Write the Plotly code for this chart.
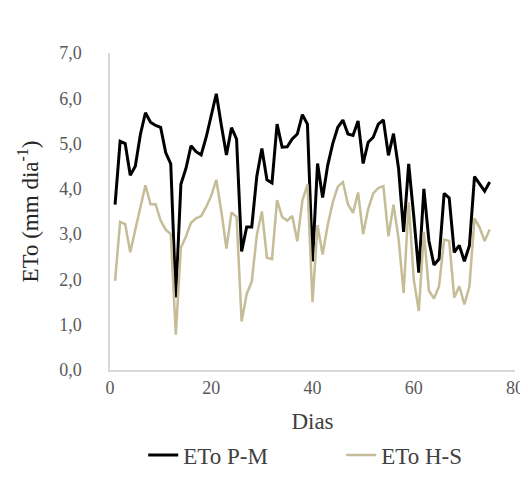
import plotly.graph_objects as go

dias = list(range(1, 76))

eto_pm = [3.65, 5.05, 5.0, 4.3, 4.5, 5.2, 5.68, 5.47, 5.4, 5.36,
          4.8, 4.55, 1.6, 4.1, 4.45, 4.95, 4.82, 4.75, 5.14, 5.62,
          6.1, 5.4, 4.75, 5.35, 5.1, 2.62, 3.16, 3.16, 4.28, 4.89,
          4.2, 4.13, 5.43, 4.92, 4.93, 5.1, 5.21, 5.64, 5.43, 2.4,
          4.56, 3.81, 4.52, 5.0, 5.36, 5.52, 5.21, 5.18, 5.5, 4.56,
          5.03, 5.14, 5.43, 5.52, 4.74, 5.22, 4.45, 3.05, 4.55, 3.4,
          2.15, 4.0, 2.85, 2.32, 2.45, 3.9, 3.8, 2.6, 2.75, 2.4,
          2.75, 4.27, 4.1, 3.95, 4.15]

eto_hs = [1.97, 3.27, 3.22, 2.6, 3.1, 3.6, 4.08, 3.66, 3.66, 3.3,
          3.1, 3.0, 0.78, 2.7, 2.95, 3.25, 3.35, 3.4, 3.6, 3.85,
          4.2, 3.5, 2.68, 3.48, 3.38, 1.07, 1.68, 1.95, 2.98, 3.5,
          2.48, 2.45, 3.75, 3.38, 3.3, 3.4, 2.84, 3.74, 4.1, 1.5,
          3.2, 2.55, 3.2, 3.7, 4.05, 4.15, 3.66, 3.47, 3.92, 3.0,
          3.56, 3.9, 4.02, 4.06, 2.95, 3.65, 2.9, 1.7, 3.7, 2.0,
          1.3, 3.05, 1.75, 1.58, 1.85, 2.88, 2.85, 1.6, 1.85, 1.45,
          1.85, 3.35, 3.15, 2.85, 3.1]

x_ticks = [0, 20, 40, 60, 80]
y_ticks = [0, 1, 2, 3, 4, 5, 6, 7]
y_tick_labels = ["0,0", "1,0", "2,0", "3,0", "4,0", "5,0", "6,0", "7,0"]

SERIF = "Liberation Serif"

fig = go.Figure()
fig.add_trace(go.Scatter(x=dias, y=eto_pm, mode="lines", name="ETo P-M",
                         legendwidth=153,
                         line=dict(color="#000000", width=3)))
fig.add_trace(go.Scatter(x=dias, y=eto_hs, mode="lines", name="ETo H-S",
                         line=dict(color="#C4BD97", width=2.5)))

fig.update_layout(
    width=528, height=480,
    margin=dict(l=102, r=14, t=45, b=110),
    paper_bgcolor="white", plot_bgcolor="white",
    font=dict(family=SERIF, color="#404040"),
    showlegend=True,
    legend=dict(orientation="h", x=0.082, xanchor="left", y=-0.268, yanchor="middle",
                font=dict(family=SERIF, size=23, color="#404040"),
                bgcolor="rgba(0,0,0,0)"),
    xaxis=dict(range=[0, 80], tickvals=x_ticks, showgrid=False, zeroline=False,
               showline=True, linecolor="#d9d9d9", linewidth=1.5,
               ticks="", tickfont=dict(family=SERIF, size=18, color="#595959"),
               ticklabelstandoff=1,
               title=dict(text="Dias", font=dict(family=SERIF, size=23, color="#404040"),
                          standoff=16)),
    yaxis=dict(range=[0, 7], tickvals=y_ticks, ticktext=y_tick_labels,
               showgrid=False, zeroline=False,
               showline=True, linecolor="#d9d9d9", linewidth=1.5,
               ticks="", tickfont=dict(family=SERIF, size=18, color="#595959"),
               ticklabelstandoff=23,
               title=dict(text="ETo (mm dia<sup>-1</sup>)",
                          font=dict(family=SERIF, size=23, color="#262626"),
                          standoff=14)),
)

fig.write_html("out.html")
